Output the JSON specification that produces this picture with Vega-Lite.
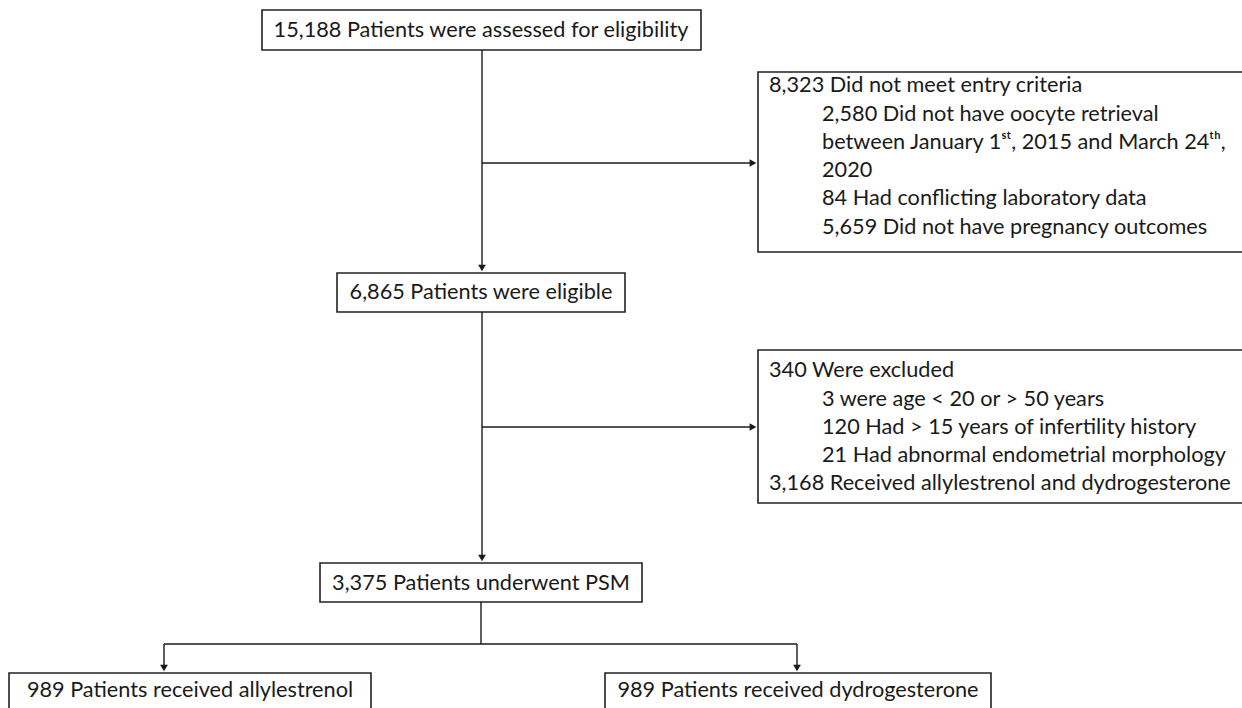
{
  "$schema": "https://vega.github.io/schema/vega-lite/v6.json",
  "width": 1242,
  "height": 708,
  "autosize": {"type": "fit", "contains": "padding"},
  "padding": 0,
  "background": "white",
  "config": {"view": {"stroke": null}},
  "datasets": {
    "boxes": [
      {"id": "assessed", "x1": 262, "x2": 701, "y1": 10, "y2": 50},
      {"id": "notmet", "x1": 758, "x2": 1262, "y1": 72, "y2": 252},
      {"id": "eligible", "x1": 337, "x2": 625, "y1": 273, "y2": 312},
      {"id": "excluded", "x1": 758, "x2": 1262, "y1": 350, "y2": 503},
      {"id": "psm", "x1": 320, "x2": 642, "y1": 563, "y2": 602},
      {"id": "allyl", "x1": 9, "x2": 371, "y1": 673, "y2": 725},
      {"id": "dydro", "x1": 605, "x2": 991, "y1": 673, "y2": 725}
    ],
    "links": [
      {"x1": 482, "x2": 482, "y1": 50, "y2": 266},
      {"x1": 482, "x2": 750, "y1": 163, "y2": 163},
      {"x1": 482, "x2": 482, "y1": 312, "y2": 556},
      {"x1": 482, "x2": 750, "y1": 427, "y2": 427},
      {"x1": 481, "x2": 481, "y1": 602, "y2": 644},
      {"x1": 164, "x2": 797, "y1": 644, "y2": 644},
      {"x1": 164, "x2": 164, "y1": 644, "y2": 666},
      {"x1": 797, "x2": 797, "y1": 644, "y2": 666}
    ],
    "heads_down": [
      {"x": 482, "y": 268},
      {"x": 482, "y": 558},
      {"x": 164, "y": 668},
      {"x": 797, "y": 668}
    ],
    "heads_right": [
      {"x": 753, "y": 163},
      {"x": 753, "y": 427}
    ],
    "centered": [
      {"x": 481, "y": 30, "text": "15,188 Patients were assessed for eligibility"},
      {"x": 481, "y": 292, "text": "6,865 Patients were eligible"},
      {"x": 481, "y": 583, "text": "3,375 Patients underwent PSM"},
      {"x": 190, "y": 690, "text": "989 Patients received allylestrenol"},
      {"x": 798, "y": 690, "text": "989 Patients received dydrogesterone"}
    ],
    "lefttext": [
      {"x": 769, "y": 85, "text": "8,323 Did not meet entry criteria"},
      {"x": 822, "y": 114, "text": "2,580 Did not have oocyte retrieval"},
      {"x": 822, "y": 142, "text": "between January 1ˢᵗ, 2015 and March 24ᵗʰ,"},
      {"x": 822, "y": 170, "text": "2020"},
      {"x": 822, "y": 198, "text": "84 Had conflicting laboratory data"},
      {"x": 822, "y": 227, "text": "5,659 Did not have pregnancy outcomes"},
      {"x": 769, "y": 370, "text": "340 Were excluded"},
      {"x": 822, "y": 399, "text": "3 were age < 20 or > 50 years"},
      {"x": 822, "y": 427, "text": "120 Had > 15 years of infertility history"},
      {"x": 822, "y": 455, "text": "21 Had abnormal endometrial morphology"},
      {"x": 769, "y": 483, "text": "3,168 Received allylestrenol and dydrogesterone"}
    ]
  },
  "layer": [
    {
      "data": {"name": "boxes"},
      "mark": {"type": "rect", "clip": true, "fill": "white", "stroke": "#222222", "strokeWidth": 1.6},
      "encoding": {
        "x": {"field": "x1", "type": "quantitative", "scale": {"domain": [0, 1242], "nice": false, "zero": false}, "axis": null},
        "x2": {"field": "x2"},
        "y": {"field": "y1", "type": "quantitative", "scale": {"domain": [0, 708], "nice": false, "zero": false, "reverse": true}, "axis": null},
        "y2": {"field": "y2"}
      }
    },
    {
      "data": {"name": "links"},
      "mark": {"type": "rule", "stroke": "#1a1a1a", "strokeWidth": 1.4},
      "encoding": {
        "x": {"field": "x1", "type": "quantitative", "scale": {"domain": [0, 1242], "nice": false, "zero": false}, "axis": null},
        "x2": {"field": "x2"},
        "y": {"field": "y1", "type": "quantitative", "scale": {"domain": [0, 708], "nice": false, "zero": false, "reverse": true}, "axis": null},
        "y2": {"field": "y2"}
      }
    },
    {
      "data": {"name": "heads_down"},
      "mark": {"type": "point", "shape": "triangle-down", "filled": true, "color": "#1a1a1a", "size": 60, "opacity": 1},
      "encoding": {
        "x": {"field": "x", "type": "quantitative", "scale": {"domain": [0, 1242], "nice": false, "zero": false}, "axis": null},
        "y": {"field": "y", "type": "quantitative", "scale": {"domain": [0, 708], "nice": false, "zero": false, "reverse": true}, "axis": null}
      }
    },
    {
      "data": {"name": "heads_right"},
      "mark": {"type": "point", "shape": "triangle-right", "filled": true, "color": "#1a1a1a", "size": 60, "opacity": 1},
      "encoding": {
        "x": {"field": "x", "type": "quantitative", "scale": {"domain": [0, 1242], "nice": false, "zero": false}, "axis": null},
        "y": {"field": "y", "type": "quantitative", "scale": {"domain": [0, 708], "nice": false, "zero": false, "reverse": true}, "axis": null}
      }
    },
    {
      "data": {"name": "centered"},
      "mark": {"type": "text", "font": "Lato", "fontSize": 21.7, "align": "center", "baseline": "middle", "color": "#1a1a1a"},
      "encoding": {
        "x": {"field": "x", "type": "quantitative", "scale": {"domain": [0, 1242], "nice": false, "zero": false}, "axis": null},
        "y": {"field": "y", "type": "quantitative", "scale": {"domain": [0, 708], "nice": false, "zero": false, "reverse": true}, "axis": null},
        "text": {"field": "text"}
      }
    },
    {
      "data": {"name": "lefttext"},
      "mark": {"type": "text", "font": "Lato", "fontSize": 21.7, "align": "left", "baseline": "middle", "color": "#1a1a1a"},
      "encoding": {
        "x": {"field": "x", "type": "quantitative", "scale": {"domain": [0, 1242], "nice": false, "zero": false}, "axis": null},
        "y": {"field": "y", "type": "quantitative", "scale": {"domain": [0, 708], "nice": false, "zero": false, "reverse": true}, "axis": null},
        "text": {"field": "text"}
      }
    }
  ]
}
